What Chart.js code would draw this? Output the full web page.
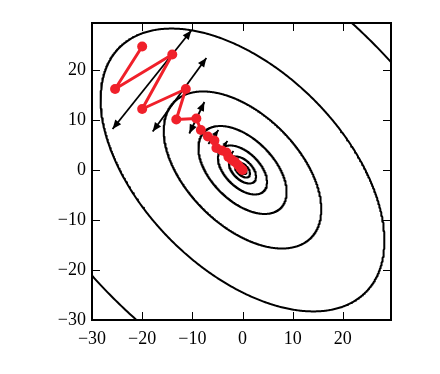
<!DOCTYPE html>
<html><head><meta charset="utf-8">
<script src="https://cdn.jsdelivr.net/npm/chart.js@4/dist/chart.umd.min.js"></script>
<style>html,body{margin:0;padding:0;background:#fff;}#wrap{width:440px;height:374px;}</style>
</head><body><div id="wrap"><canvas id="c" width="440" height="374"></canvas></div>
<script>
// ---- data ----
const xTicks = [-30, -20, -10, 0, 10, 20];
const yTicks = [-30, -20, -10, 0, 10, 20];
const xRange = [-30, 29.6];
const yRange = [-30, 29.4];
// quadratic loss f(x,y) = a*x^2 + b*x*y + c*y^2, contour levels
const quadCoef = [1, 1, 1];
const contourLevels = [1980, 600, 185, 58, 18, 5.5, 1.7, 0.5];
// momentum path (red)
const pathX = [-20, -25.4, -14, -20, -11.3, -13.2, -9.2, -8.3, -6.9, -5.6, -5.2, -4.1, -3.2, -2.8, -2.1, -1.5, -0.9, -0.4, -0.1, 0];
const pathY = [24.7, 16.2, 23.1, 12.2, 16.2, 10.1, 10.3, 8.0, 6.7, 5.9, 4.4, 3.9, 3.5, 2.6, 2.0, 1.6, 1.0, 0.4, 0.1, 0];
// gradient-descent step arrows (double headed)
const arrowX1 = [-25.9, -17.9, -10.6, -6.8, -4.6, -3.0, -1.8];
const arrowY1 = [8.2, 7.7, 7.3, 5.2, 3.6, 2.2, 1.2];
const arrowX2 = [-10.2, -7.2, -7.6, -4.8, -3.0, -1.8, -0.9];
const arrowY2 = [27.9, 22.4, 13.6, 8.0, 5.8, 3.8, 2.4];

const RED = 'rgb(240,32,42)';

function contourPoints(level) {
  const [a, b, c] = quadCoef;
  const phi = 0.5 * Math.atan2(b, a - c);
  const cs = Math.cos(phi), sn = Math.sin(phi);
  const l1 = a * cs * cs + b * cs * sn + c * sn * sn;
  const l2 = a * sn * sn - b * cs * sn + c * cs * cs;
  const r1 = Math.sqrt(level / l1), r2 = Math.sqrt(level / l2);
  const pts = [];
  const N = 720;
  for (let i = 0; i <= N; i++) {
    const t = 2 * Math.PI * i / N;
    const u = r1 * Math.cos(t), v = r2 * Math.sin(t);
    pts.push({ x: u * cs - v * sn, y: u * sn + v * cs });
  }
  return pts;
}

const datasets = [];
datasets.push({
  data: pathX.map((x, i) => ({ x, y: pathY[i] })),
  showLine: true, borderColor: RED, borderWidth: 3, borderJoinStyle: 'round',
  pointRadius: 5, pointBackgroundColor: RED, pointBorderWidth: 0,
  order: 0
});
arrowX1.forEach((x1, i) => {
  datasets.push({
    data: [{ x: x1, y: arrowY1[i] }, { x: arrowX2[i], y: arrowY2[i] }],
    showLine: true, borderColor: '#000', borderWidth: 1.8, pointRadius: 0,
    isArrow: true, order: 1
  });
});
contourLevels.forEach(L => {
  datasets.push({
    data: contourPoints(L), showLine: true, borderColor: '#000',
    borderWidth: 2, borderJoinStyle: 'round', pointRadius: 0, tension: 0, order: 2
  });
});

function fmt(v) { return v < 0 ? '\u2212' + Math.abs(v) : '' + v; }

const arrowPlugin = {
  id: 'arrows',
  afterDatasetDraw(chart, args) {
    const ds = chart.data.datasets[args.index];
    if (!ds.isArrow) return;
    const p = args.meta.data;
    const ctx = chart.ctx;
    const head = (tip, from) => {
      const dx = tip.x - from.x, dy = tip.y - from.y;
      const len = Math.hypot(dx, dy);
      const ux = dx / len, uy = dy / len;
      const hl = Math.min(9, len * 0.4), hw = hl * 0.42;
      const bx = tip.x - ux * hl, by = tip.y - uy * hl;
      ctx.beginPath();
      ctx.moveTo(tip.x, tip.y);
      ctx.lineTo(bx - uy * hw, by + ux * hw);
      ctx.lineTo(bx + uy * hw, by - ux * hw);
      ctx.closePath();
      ctx.fill();
    };
    ctx.save();
    ctx.fillStyle = '#000';
    head(p[1], p[0]);
    head(p[0], p[1]);
    ctx.restore();
  },
  afterDraw(chart) {
    const { ctx, chartArea: a, scales } = chart;
    ctx.save();
    ctx.strokeStyle = '#000';
    ctx.lineWidth = 1;
    const tl = 8;
    ctx.beginPath();
    xTicks.forEach(v => {
      const px = Math.round(scales.x.getPixelForValue(v)) + 0.5;
      ctx.moveTo(px, a.bottom); ctx.lineTo(px, a.bottom - tl);
      ctx.moveTo(px, a.top); ctx.lineTo(px, a.top + tl);
    });
    yTicks.forEach(v => {
      const py = Math.round(scales.y.getPixelForValue(v)) + 0.5;
      ctx.moveTo(a.left, py); ctx.lineTo(a.left + tl, py);
      ctx.moveTo(a.right, py); ctx.lineTo(a.right - tl, py);
    });
    ctx.stroke();
    ctx.lineWidth = 2;
    ctx.strokeRect(a.left, a.top, a.right - a.left, a.bottom - a.top);
    ctx.restore();
  }
};

new Chart(document.getElementById('c'), {
  type: 'scatter',
  data: { datasets },
  options: {
    responsive: false, animation: false,
    layout: { padding: { top: 23, right: 49, left: 0, bottom: 0 } },
    plugins: { legend: { display: false }, tooltip: { enabled: false } },
    elements: { line: { tension: 0 } },
    scales: {
      x: {
        type: 'linear', min: xRange[0], max: xRange[1],
        afterBuildTicks: s => { s.ticks = xTicks.map(v => ({ value: v })); },
        afterFit: s => { s.height = 54; },
        grid: { display: false, drawTicks: false }, border: { display: false },
        ticks: { callback: fmt, color: '#000', padding: 8, maxRotation: 0, autoSkip: false,
          font: { family: 'Liberation Serif', size: 18 } }
      },
      y: {
        type: 'linear', min: yRange[0], max: yRange[1],
        afterBuildTicks: s => { s.ticks = yTicks.map(v => ({ value: v })); },
        afterFit: s => { s.width = 92; },
        grid: { display: false, drawTicks: false }, border: { display: false },
        ticks: { callback: fmt, color: '#000', padding: 6, autoSkip: false,
          font: { family: 'Liberation Serif', size: 18 } }
      }
    }
  },
  plugins: [arrowPlugin]
});
</script></body></html>
